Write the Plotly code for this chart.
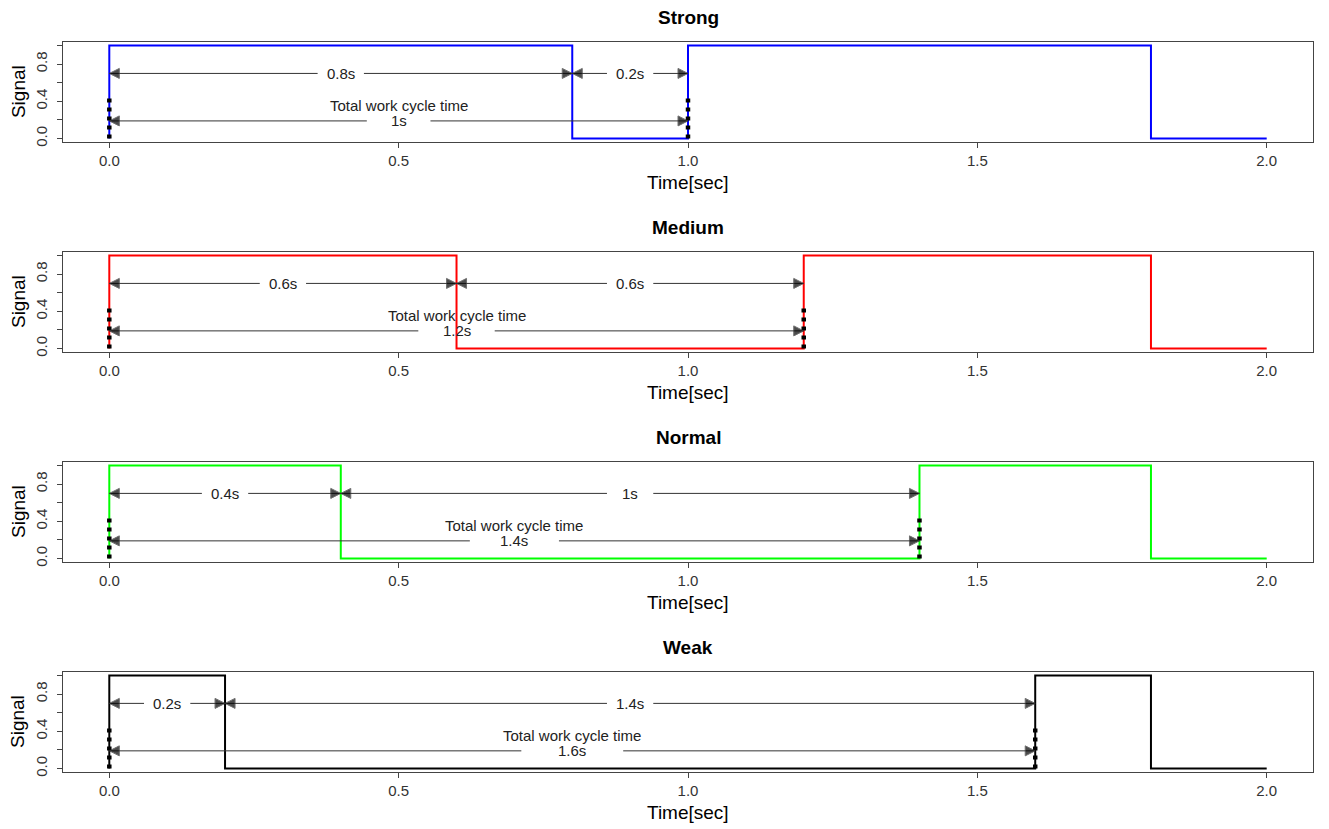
import plotly.graph_objects as go

# ---------------- data ----------------
names = ["Strong", "Medium", "Normal", "Weak"]
on_time = [0.8, 0.6, 0.4, 0.2]          # first pulse length [s]
off_time = [0.2, 0.6, 1.0, 1.4]         # pause length [s]
cycle_time = [1.0, 1.2, 1.4, 1.6]       # total work cycle time [s]
second_off = [1.8, 1.8, 1.8, 1.8]       # end of second pulse [s]
end_time = [2.0, 2.0, 2.0, 2.0]
on_labels = ["0.8s", "0.6s", "0.4s", "0.2s"]
off_labels = ["0.2s", "0.6s", "1s", "1.4s"]
cycle_labels = ["1s", "1.2s", "1.4s", "1.6s"]
x_ticks = [0.0, 0.5, 1.0, 1.5, 2.0]
x_ticklabels = ["0.0", "0.5", "1.0", "1.5", "2.0"]
y_ticks = [0.0, 0.2, 0.4, 0.6, 0.8, 1.0]
y_ticklabels = ["0.0", "", "0.4", "", "0.8", ""]

# ---------------- style ----------------
colors = ["#0000FF", "#FF0000", "#00FF00", "#000000"]
W, H = 1329, 829
FONT = "Liberation Sans, Arial, sans-serif"
box_l, box_r = 63, 1313
box_top0, box_h, step = 42, 101, 211
y_up, y_low, y_tot, y_dot = 0.70, 0.19, 0.36, 0.45
gap_up = 0.04
ARROW_COLOR = "#333333"

fig = go.Figure()
layout_axes = {}
annotations = []

for i, name in enumerate(names):
    k = "" if i == 0 else str(i + 1)
    xa, ya = "x" + k, "y" + k
    top = box_top0 + i * step
    bot = top + box_h
    dom_y = [1 - bot / H, 1 - top / H]

    # signal (step)
    t = [0, 0, on_time[i], cycle_time[i], second_off[i], end_time[i]]
    s = [0, 1, 0, 1, 0, 0]
    fig.add_trace(go.Scatter(x=t, y=s, mode="lines", line=dict(color=colors[i], width=2, shape="hv"),
                             xaxis=xa, yaxis=ya, showlegend=False, hoverinfo="skip"))

    # dotted markers at cycle start and end
    for xd in (0, cycle_time[i]):
        fig.add_trace(go.Scatter(x=[xd, xd], y=[0, y_dot], mode="lines",
                                 line=dict(color="black", width=4.5, dash="4px,5px"),
                                 xaxis=xa, yaxis=ya, showlegend=False, hoverinfo="skip"))

    # arrows with label gaps
    def arrow(x0, x1, y, xm, gap):
        for a, b, sym in ((x0, xm - gap, "arrow-left"), (xm + gap, x1, "arrow-right")):
            msize = [10, 0] if sym == "arrow-left" else [0, 10]
            fig.add_trace(go.Scatter(x=[a, b], y=[y, y], mode="lines+markers",
                                     line=dict(color=ARROW_COLOR, width=1),
                                     marker=dict(symbol=sym, size=msize, color="black"),
                                     xaxis=xa, yaxis=ya, showlegend=False, hoverinfo="skip"))

    m1 = on_time[i] / 2
    m2 = (on_time[i] + cycle_time[i]) / 2
    m3 = cycle_time[i] / 2
    arrow(0, on_time[i], y_up, m1, gap_up)
    arrow(on_time[i], cycle_time[i], y_up, m2, gap_up)
    arrow(0, cycle_time[i], y_low, m3, 0.055 * cycle_time[i])

    txtfont = dict(family=FONT, size=15, color="#222222")
    for xm, y, txt in ((m1, y_up, on_labels[i]), (m2, y_up, off_labels[i]),
                       (m3, y_low, cycle_labels[i]), (m3, y_tot, "Total work cycle time")):
        annotations.append(dict(x=xm, y=y, xref=xa, yref=ya, text=txt, showarrow=False,
                                font=txtfont, xanchor="center", yanchor="middle"))

    # title & axis titles
    annotations.append(dict(x=(box_l + box_r) / 2 / W, y=1 - (top - 24) / H, xref="paper", yref="paper",
                            text="<b>" + name + "</b>", showarrow=False,
                            font=dict(family=FONT, size=19, color="black"),
                            xanchor="center", yanchor="middle"))
    annotations.append(dict(x=(box_l + box_r) / 2 / W, y=1 - (bot + 40) / H, xref="paper", yref="paper",
                            text="Time[sec]", showarrow=False,
                            font=dict(family=FONT, size=19, color="black"),
                            xanchor="center", yanchor="middle"))
    annotations.append(dict(x=18 / W, y=1 - (top + box_h / 2) / H, xref="paper", yref="paper",
                            text="Signal", showarrow=False, textangle=-90,
                            font=dict(family=FONT, size=19, color="black"),
                            xanchor="center", yanchor="middle"))

    layout_axes["xaxis" + k] = dict(domain=[box_l / W, box_r / W], range=[-0.08, 2.08],
                                    anchor=ya, tickvals=x_ticks, ticktext=x_ticklabels,
                                    ticks="outside", ticklen=5, tickcolor="#444",
                                    showline=True, mirror=True, linecolor="#444", linewidth=1,
                                    showgrid=False, zeroline=False,
                                    tickfont=dict(family=FONT, size=15, color="#333"))
    layout_axes["yaxis" + k] = dict(domain=dom_y, range=[-0.04, 1.04], anchor=xa,
                                    tickvals=y_ticks, ticktext=y_ticklabels, tickangle=-90,
                                    ticks="outside", ticklen=5, tickcolor="#444",
                                    showline=True, mirror=True, linecolor="#444", linewidth=1,
                                    showgrid=False, zeroline=False, ticklabelstandoff=4,
                                    tickfont=dict(family=FONT, size=15, color="#333"))

fig.update_layout(width=W, height=H, margin=dict(l=0, r=0, t=0, b=0),
                  paper_bgcolor="white", plot_bgcolor="white",
                  annotations=annotations, **layout_axes)
fig.write_html("out.html", config={"displayModeBar": False},
               post_script="document.body.style.margin='0';document.body.style.padding='0';document.body.style.overflow='hidden';")
